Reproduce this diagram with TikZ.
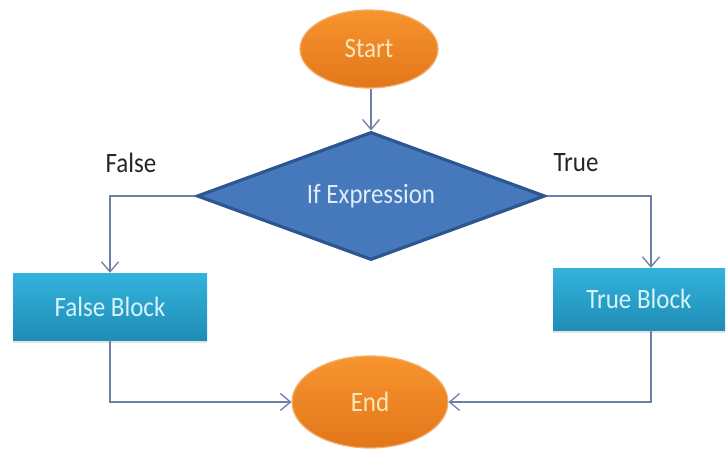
\documentclass[tikz,border=0pt]{standalone}
\usepackage{fontspec}
\setmainfont{Carlito}
\usetikzlibrary{shapes.geometric,arrows.meta,shadows}

\definecolor{orangeL}{HTML}{F7952F}
\definecolor{orangeD}{HTML}{E2761A}
\definecolor{orangeE}{HTML}{F4B070}
\definecolor{termtext}{HTML}{FBE6BC}
\definecolor{diaFill}{HTML}{4679BC}
\definecolor{diaEdge}{HTML}{2C5690}
\definecolor{diaText}{HTML}{E0EDF8}
\definecolor{blkL}{HTML}{33B3DC}
\definecolor{blkD}{HTML}{1F8DB6}
\definecolor{blkText}{HTML}{D8F3FA}
\definecolor{lineC}{HTML}{6C80A6}
\definecolor{lblC}{HTML}{262626}

\newcommand{\tall}[1]{\scalebox{1}[1.12]{#1}}

\begin{document}
\begin{tikzpicture}[x=1pt,y=-1pt,
  txt/.style={font=\fontsize{25}{28}\selectfont},
  term/.style={ellipse, inner sep=0pt, top color=orangeL, bottom color=orangeD,
    draw=orangeE, line width=1.2pt, text=termtext, txt},
  decision/.style={diamond, inner sep=0pt, aspect=2.72, minimum width=348pt,
    minimum height=128pt, fill=diaFill, draw=diaEdge, line width=3.2pt,
    text=diaText, txt},
  block/.style={rectangle, inner sep=0pt, top color=blkL, bottom color=blkD,
    text=blkText, txt,
    drop shadow={opacity=0.22, shadow xshift=0pt, shadow yshift=-3pt}},
  flow/.style={draw=lineC, line width=1.3pt,
    -{Straight Barb[length=10pt,width=17pt]}},
  lbl/.style={txt, text=lblC}]

  % canvas
  \fill[white] (0,0) rectangle (726,452);
  \useasboundingbox (0,0) rectangle (726,452);

  % shapes
  \node[term, minimum width=138pt, minimum height=78pt] (start) at (369,49) {\tall{Start}};
  \node[decision] (if) at (371,196) {\raisebox{-3pt}{\tall{If Expression}}};
  \node[block, minimum width=194pt, minimum height=67pt] (fb) at (110,306.5) {\tall{False Block}};
  \node[block, minimum width=172pt, minimum height=62pt] (tb) at (639,299) {\tall{True Block}};
  \node[term, minimum width=156pt, minimum height=92pt] (end) at (370,402) {\tall{End}};

  % branch labels
  \node[lbl] (flabel) at (131,163) {\tall{False}};
  \node[lbl] (tlabel) at (576,163) {\tall{True}};

  % connectors
  \draw[flow] (start.south -| if.north) -- (if.north);
  \draw[flow] (if.west) -| (fb.north);
  \draw[flow] (if.east) -| ([xshift=12pt]tb.north);
  \draw[flow] (fb.south) |- (end.west);
  \draw[flow] ([xshift=12pt]tb.south) |- (end.east);
\end{tikzpicture}
\end{document}
